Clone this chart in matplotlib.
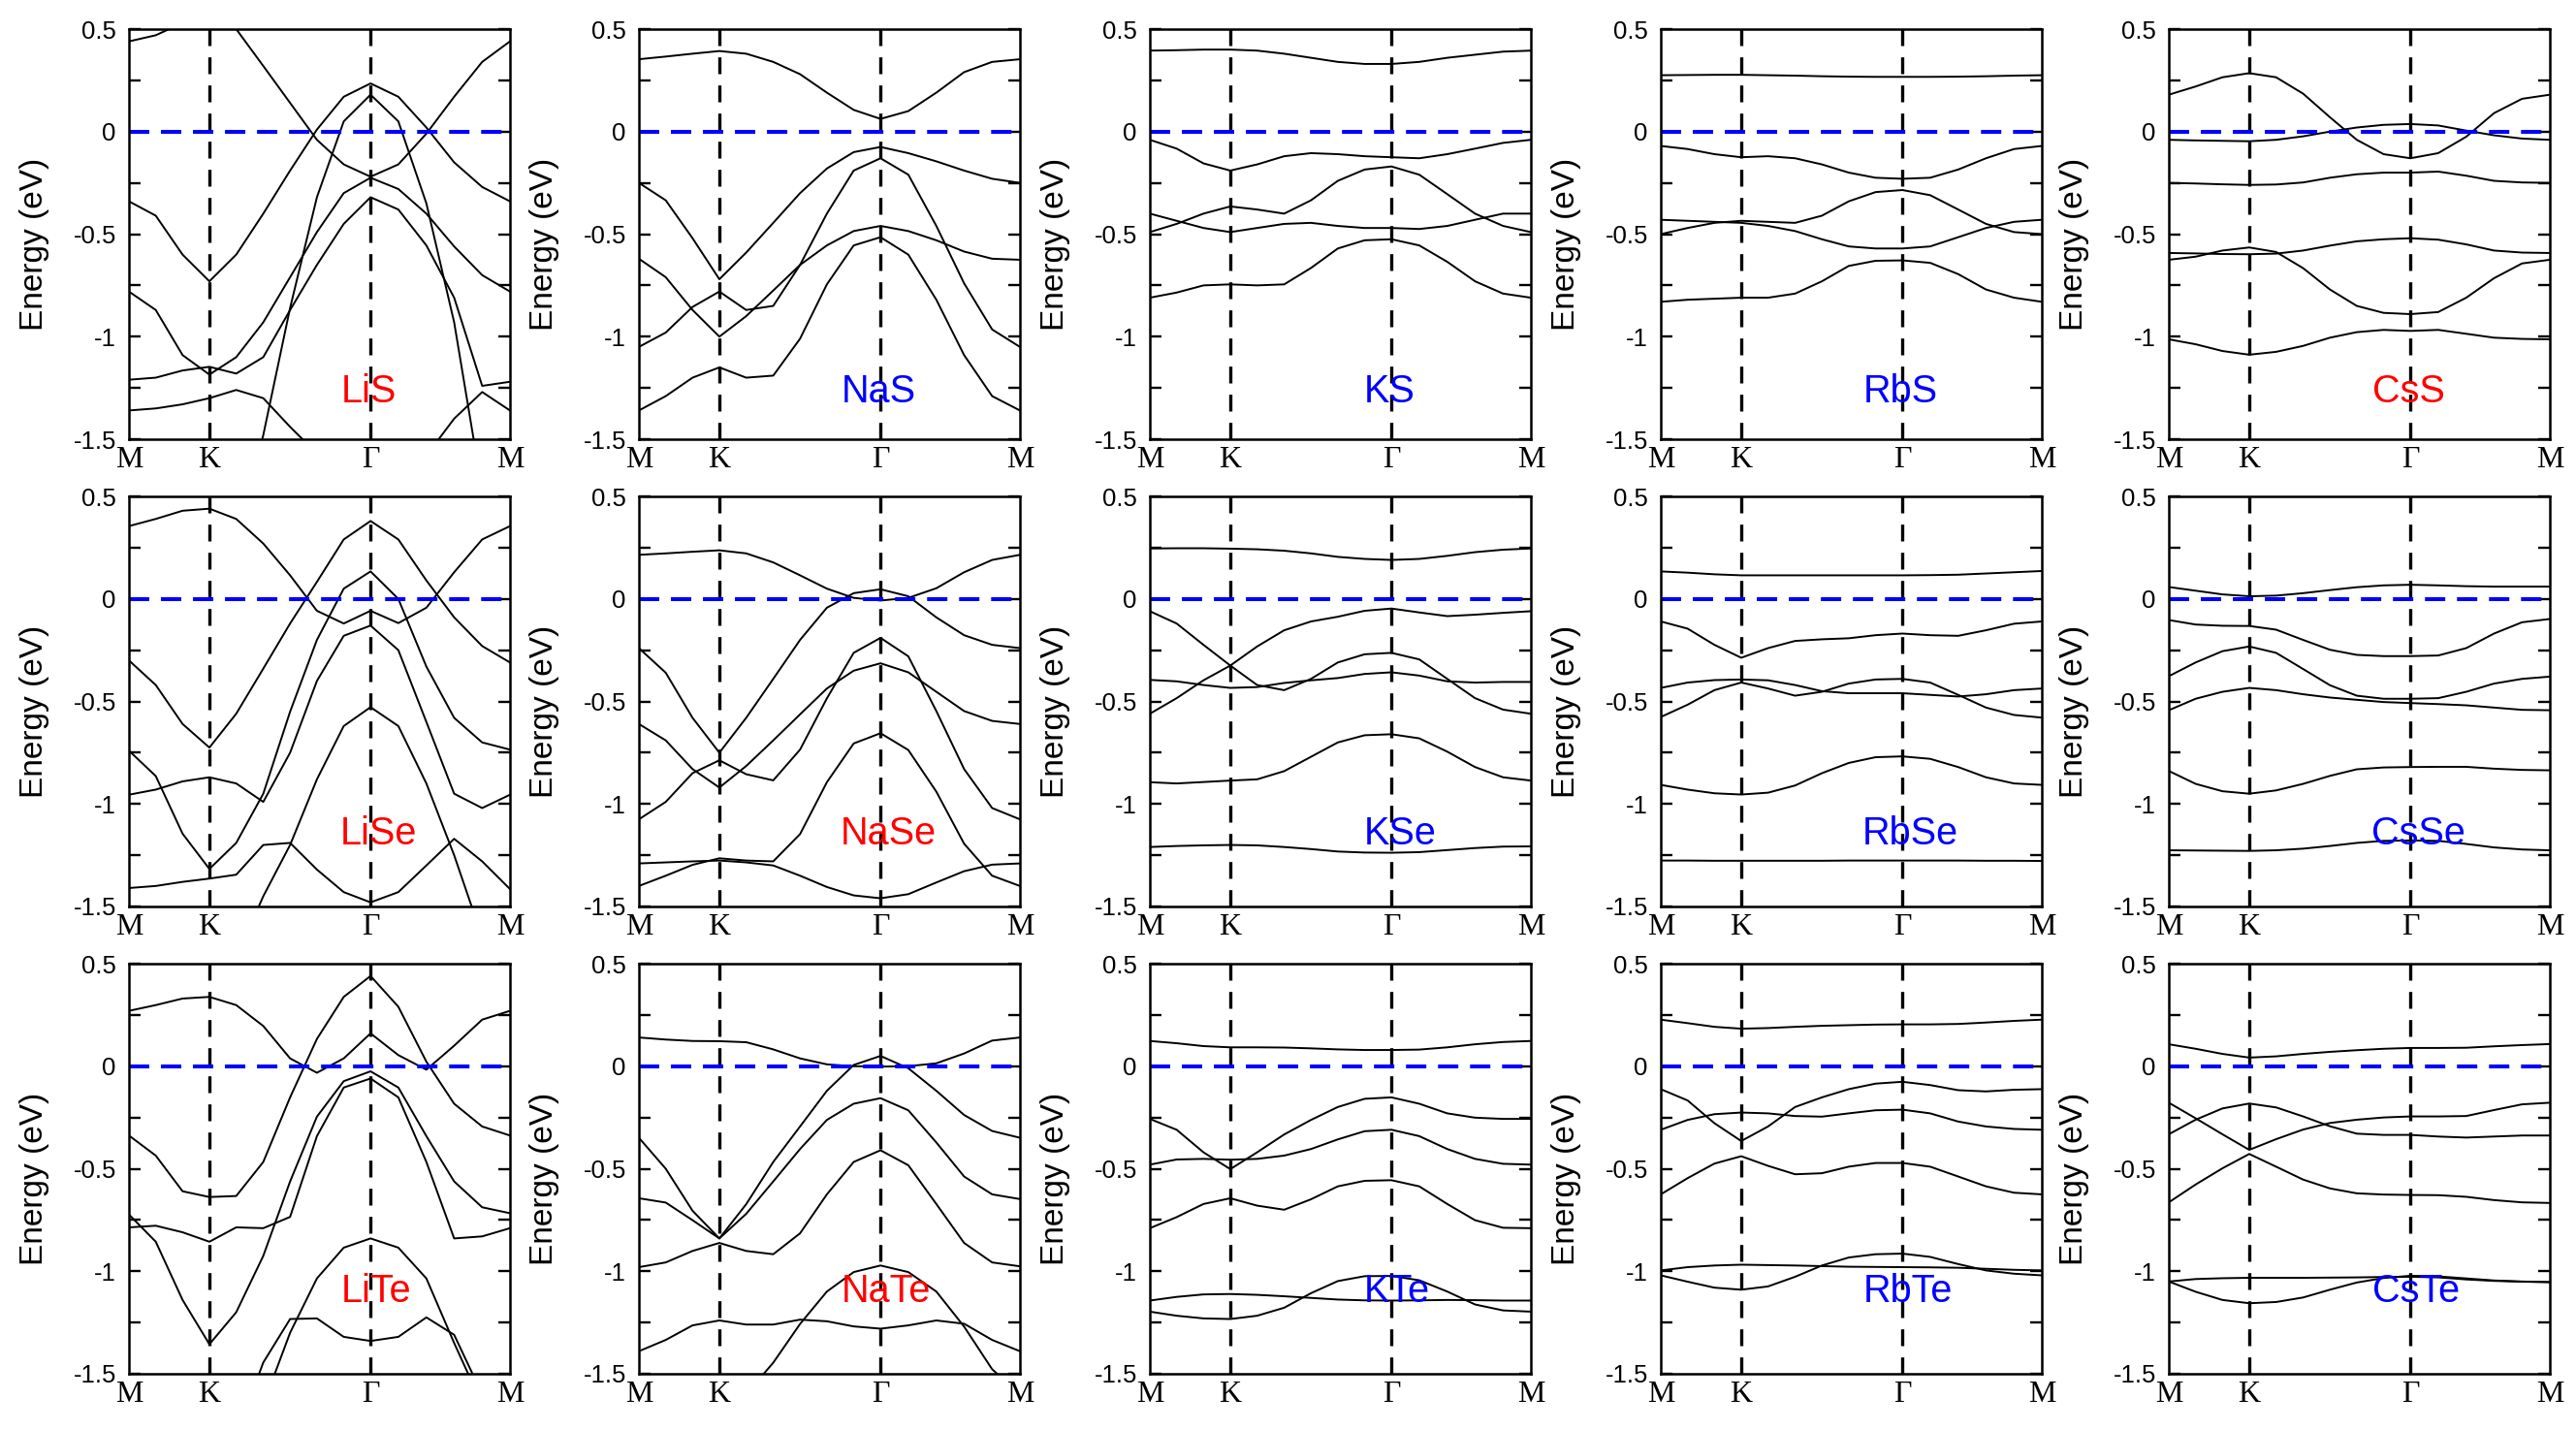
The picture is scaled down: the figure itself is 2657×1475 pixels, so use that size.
import matplotlib
matplotlib.use("Agg")
import matplotlib.pyplot as plt
import matplotlib.transforms as mtransforms

plt.rcParams['font.family'] = ['Liberation Sans', 'DejaVu Sans']

# k-path M -> K -> Gamma -> M (hexagonal BZ, 2pi/a units)
kpath = [0.0, 0.111, 0.222, 0.333, 0.444, 0.556, 0.667, 0.778, 0.889, 1.0,
         1.115, 1.231, 1.346, 1.462, 1.577]
k_ticks = [0.0, 0.333, 1.0, 1.577]
k_labels = ['M', 'K', 'Γ', 'M']

# band energies (eV) read at the kpath points; values outside [-1.5, 0.5] are clipped
LiS = [
    [0.44, 0.47, 0.53, 0.60, 0.50, 0.32, 0.14, -0.04, -0.16, -0.22, -0.16, -0.01, 0.17, 0.34, 0.44],
    [-0.34, -0.41, -0.60, -0.73, -0.60, -0.40, -0.19, 0.01, 0.17, 0.235, 0.17, 0.02, -0.15, -0.27, -0.34],
    [-2.2, -2.2, -2.2, -2.2, -2.0, -1.48, -0.86, -0.32, 0.05, 0.18, 0.05, -0.35, -0.93, -1.75, -2.2],
    [-0.78, -0.87, -1.09, -1.185, -1.10, -0.93, -0.71, -0.49, -0.30, -0.225, -0.28, -0.40, -0.56, -0.70, -0.78],
    [-1.21, -1.20, -1.165, -1.147, -1.18, -1.10, -0.87, -0.65, -0.45, -0.32, -0.38, -0.555, -0.81, -1.24, -1.22],
    [-1.36, -1.35, -1.33, -1.30, -1.26, -1.30, -1.44, -1.57, -1.75, -1.85, -1.75, -1.58, -1.40, -1.27, -1.36],
]
NaS = [
    [0.353, 0.366, 0.38, 0.393, 0.38, 0.34, 0.28, 0.19, 0.106, 0.062, 0.10, 0.19, 0.29, 0.34, 0.353],
    [-0.25, -0.335, -0.52, -0.72, -0.59, -0.445, -0.30, -0.18, -0.10, -0.075, -0.105, -0.145, -0.19, -0.23, -0.25],
    [-1.05, -0.98, -0.855, -0.78, -0.87, -0.85, -0.65, -0.40, -0.19, -0.13, -0.21, -0.46, -0.74, -0.965, -1.05],
    [-0.62, -0.71, -0.87, -1.0, -0.90, -0.775, -0.65, -0.555, -0.485, -0.46, -0.485, -0.53, -0.585, -0.62, -0.625],
    [-1.36, -1.29, -1.20, -1.15, -1.20, -1.19, -1.01, -0.745, -0.555, -0.515, -0.60, -0.82, -1.09, -1.29, -1.36],
]
KS = [
    [0.395, 0.397, 0.40, 0.40, 0.395, 0.38, 0.36, 0.34, 0.33, 0.33, 0.34, 0.36, 0.375, 0.39, 0.395],
    [-0.04, -0.083, -0.155, -0.19, -0.16, -0.12, -0.105, -0.11, -0.12, -0.125, -0.13, -0.11, -0.083, -0.055, -0.04],
    [-0.49, -0.45, -0.40, -0.365, -0.38, -0.40, -0.335, -0.24, -0.185, -0.17, -0.21, -0.305, -0.40, -0.46, -0.49],
    [-0.40, -0.435, -0.47, -0.49, -0.47, -0.45, -0.445, -0.46, -0.47, -0.47, -0.475, -0.46, -0.43, -0.40, -0.40],
    [-0.81, -0.785, -0.75, -0.745, -0.75, -0.745, -0.665, -0.57, -0.53, -0.525, -0.555, -0.635, -0.73, -0.79, -0.81],
]
RbS = [
    [0.275, 0.276, 0.277, 0.277, 0.275, 0.273, 0.27, 0.268, 0.267, 0.267, 0.267, 0.268, 0.27, 0.273, 0.275],
    [-0.07, -0.085, -0.11, -0.125, -0.12, -0.13, -0.16, -0.20, -0.225, -0.23, -0.225, -0.185, -0.13, -0.085, -0.07],
    [-0.50, -0.47, -0.445, -0.435, -0.44, -0.445, -0.41, -0.34, -0.295, -0.285, -0.31, -0.38, -0.45, -0.49, -0.50],
    [-0.43, -0.435, -0.44, -0.445, -0.46, -0.485, -0.525, -0.56, -0.57, -0.57, -0.56, -0.515, -0.47, -0.44, -0.43],
    [-0.83, -0.82, -0.815, -0.81, -0.81, -0.79, -0.73, -0.655, -0.63, -0.628, -0.64, -0.695, -0.77, -0.81, -0.83],
]
CsS = [
    [0.18, 0.22, 0.265, 0.285, 0.265, 0.185, 0.07, -0.04, -0.11, -0.13, -0.105, -0.025, 0.09, 0.16, 0.18],
    [-0.04, -0.043, -0.045, -0.047, -0.04, -0.023, 0.0, 0.02, 0.033, 0.037, 0.03, 0.005, -0.018, -0.034, -0.04],
    [-0.25, -0.253, -0.257, -0.26, -0.258, -0.248, -0.225, -0.208, -0.20, -0.20, -0.195, -0.215, -0.24, -0.248, -0.25],
    [-0.592, -0.594, -0.597, -0.598, -0.595, -0.58, -0.556, -0.535, -0.525, -0.52, -0.527, -0.55, -0.58, -0.59, -0.592],
    [-0.625, -0.61, -0.58, -0.565, -0.587, -0.666, -0.77, -0.85, -0.884, -0.89, -0.88, -0.81, -0.715, -0.643, -0.625],
    [-1.013, -1.037, -1.07, -1.088, -1.074, -1.045, -1.005, -0.978, -0.967, -0.972, -0.967, -0.986, -1.005, -1.011, -1.013],
]

LiSe = [
    [0.355, 0.39, 0.43, 0.44, 0.39, 0.27, 0.115, -0.058, -0.12, -0.058, -0.118, -0.043, 0.13, 0.29, 0.355],
    [-0.30, -0.42, -0.61, -0.725, -0.56, -0.34, -0.12, 0.083, 0.29, 0.38, 0.29, 0.09, -0.09, -0.23, -0.31],
    [-0.74, -0.864, -1.145, -1.317, -1.19, -0.95, -0.55, -0.20, 0.05, 0.134, 0.0, -0.33, -0.58, -0.70, -0.735],
    [-0.955, -0.93, -0.89, -0.87, -0.90, -0.99, -0.75, -0.40, -0.18, -0.13, -0.25, -0.60, -0.95, -1.02, -0.955],
    [-2.2, -2.2, -2.2, -2.0, -1.75, -1.45, -1.20, -0.88, -0.62, -0.528, -0.62, -0.90, -1.25, -1.65, -2.0],
    [-1.41, -1.40, -1.38, -1.364, -1.345, -1.20, -1.19, -1.32, -1.43, -1.48, -1.43, -1.30, -1.17, -1.28, -1.415],
]
NaSe = [
    [0.215, 0.222, 0.23, 0.237, 0.222, 0.178, 0.115, 0.05, 0.005, -0.008, 0.005, 0.052, 0.13, 0.19, 0.215],
    [-0.24, -0.36, -0.58, -0.75, -0.58, -0.39, -0.20, -0.043, 0.028, 0.047, 0.013, -0.09, -0.177, -0.224, -0.24],
    [-1.075, -0.99, -0.85, -0.787, -0.855, -0.885, -0.735, -0.485, -0.263, -0.19, -0.28, -0.547, -0.83, -1.02, -1.075],
    [-0.61, -0.69, -0.83, -0.92, -0.815, -0.69, -0.563, -0.437, -0.35, -0.314, -0.358, -0.453, -0.547, -0.595, -0.61],
    [-1.40, -1.35, -1.297, -1.265, -1.276, -1.28, -1.147, -0.894, -0.705, -0.655, -0.737, -0.94, -1.194, -1.35, -1.40],
    [-1.29, -1.285, -1.28, -1.276, -1.285, -1.30, -1.35, -1.405, -1.446, -1.46, -1.44, -1.383, -1.328, -1.296, -1.29],
]
KSe = [
    [0.246, 0.247, 0.247, 0.245, 0.242, 0.235, 0.222, 0.205, 0.195, 0.19, 0.195, 0.21, 0.228, 0.24, 0.246],
    [-0.56, -0.484, -0.397, -0.325, -0.232, -0.153, -0.11, -0.087, -0.058, -0.047, -0.066, -0.084, -0.077, -0.068, -0.06],
    [-0.06, -0.12, -0.224, -0.325, -0.42, -0.445, -0.39, -0.31, -0.27, -0.263, -0.295, -0.39, -0.484, -0.54, -0.56],
    [-0.395, -0.402, -0.42, -0.434, -0.43, -0.41, -0.397, -0.386, -0.366, -0.358, -0.374, -0.402, -0.408, -0.405, -0.405],
    [-0.894, -0.90, -0.893, -0.886, -0.88, -0.84, -0.77, -0.70, -0.665, -0.66, -0.68, -0.745, -0.82, -0.87, -0.886],
    [-1.21, -1.205, -1.202, -1.20, -1.202, -1.21, -1.22, -1.232, -1.237, -1.238, -1.235, -1.225, -1.215, -1.208, -1.207],
]
RbSe = [
    [0.134, 0.128, 0.12, 0.115, 0.115, 0.115, 0.115, 0.115, 0.115, 0.115, 0.116, 0.118, 0.124, 0.13, 0.136],
    [-0.11, -0.145, -0.224, -0.287, -0.24, -0.205, -0.197, -0.192, -0.177, -0.169, -0.177, -0.18, -0.153, -0.121, -0.11],
    [-0.576, -0.516, -0.445, -0.408, -0.437, -0.472, -0.453, -0.413, -0.393, -0.39, -0.408, -0.468, -0.53, -0.566, -0.579],
    [-0.434, -0.408, -0.396, -0.393, -0.397, -0.42, -0.45, -0.46, -0.46, -0.46, -0.468, -0.476, -0.465, -0.445, -0.437],
    [-0.907, -0.93, -0.948, -0.954, -0.945, -0.91, -0.85, -0.80, -0.772, -0.768, -0.78, -0.82, -0.87, -0.90, -0.907],
    [-1.276, -1.276, -1.277, -1.277, -1.277, -1.277, -1.277, -1.276, -1.276, -1.276, -1.276, -1.276, -1.277, -1.277, -1.278],
]
CsSe = [
    [0.058, 0.04, 0.022, 0.013, 0.016, 0.028, 0.043, 0.057, 0.066, 0.069, 0.066, 0.062, 0.06, 0.06, 0.06],
    [-0.103, -0.125, -0.131, -0.132, -0.15, -0.20, -0.248, -0.273, -0.279, -0.279, -0.276, -0.24, -0.169, -0.114, -0.098],
    [-0.377, -0.31, -0.255, -0.232, -0.263, -0.342, -0.421, -0.472, -0.487, -0.487, -0.484, -0.453, -0.413, -0.39, -0.379],
    [-0.543, -0.487, -0.453, -0.434, -0.445, -0.465, -0.481, -0.492, -0.503, -0.508, -0.513, -0.519, -0.53, -0.541, -0.543],
    [-0.839, -0.902, -0.938, -0.95, -0.934, -0.902, -0.863, -0.831, -0.822, -0.82, -0.819, -0.819, -0.828, -0.834, -0.836],
    [-1.226, -1.227, -1.228, -1.229, -1.226, -1.218, -1.205, -1.19, -1.18, -1.178, -1.18, -1.195, -1.212, -1.222, -1.226],
]

LiTe = [
    [0.27, 0.298, 0.33, 0.338, 0.298, 0.196, 0.038, -0.032, 0.038, 0.16, 0.054, -0.017, 0.10, 0.227, 0.27],
    [-0.338, -0.436, -0.61, -0.638, -0.633, -0.467, -0.152, 0.133, 0.338, 0.44, 0.29, 0.022, -0.183, -0.294, -0.338],
    [-0.723, -0.856, -1.14, -1.356, -1.20, -0.925, -0.562, -0.246, -0.073, -0.025, -0.104, -0.341, -0.562, -0.688, -0.717],
    [-0.786, -0.778, -0.81, -0.856, -0.786, -0.79, -0.735, -0.341, -0.104, -0.06, -0.152, -0.467, -0.84, -0.83, -0.79],
    [-2.2, -2.2, -2.2, -2.2, -2.0, -1.65, -1.30, -1.035, -0.885, -0.84, -0.885, -1.035, -1.35, -1.65, -2.0],
    [-2.2, -2.2, -2.2, -2.2, -1.80, -1.445, -1.233, -1.23, -1.32, -1.34, -1.32, -1.225, -1.31, -1.60, -2.0],
]
NaTe = [
    [0.14, 0.13, 0.123, 0.122, 0.117, 0.082, 0.038, 0.009, 0.0, -0.002, 0.0, 0.014, 0.062, 0.125, 0.14],
    [-0.349, -0.50, -0.705, -0.84, -0.673, -0.467, -0.294, -0.12, 0.006, 0.05, -0.01, -0.12, -0.238, -0.316, -0.349],
    [-0.644, -0.665, -0.751, -0.84, -0.72, -0.562, -0.404, -0.262, -0.183, -0.156, -0.215, -0.372, -0.538, -0.625, -0.648],
    [-0.98, -0.957, -0.901, -0.862, -0.901, -0.917, -0.815, -0.625, -0.467, -0.41, -0.483, -0.672, -0.862, -0.957, -0.976],
    [-2.2, -2.2, -2.2, -2.0, -1.60, -1.446, -1.257, -1.099, -1.004, -0.972, -1.004, -1.099, -1.27, -1.478, -1.60],
    [-1.39, -1.335, -1.264, -1.24, -1.26, -1.26, -1.236, -1.244, -1.269, -1.28, -1.264, -1.24, -1.256, -1.335, -1.39],
]
KTe = [
    [0.123, 0.112, 0.098, 0.092, 0.092, 0.091, 0.087, 0.082, 0.079, 0.079, 0.081, 0.092, 0.107, 0.118, 0.123],
    [-0.257, -0.31, -0.42, -0.502, -0.42, -0.333, -0.262, -0.199, -0.159, -0.152, -0.183, -0.23, -0.251, -0.257, -0.257],
    [-0.48, -0.455, -0.452, -0.456, -0.452, -0.436, -0.404, -0.357, -0.317, -0.31, -0.341, -0.404, -0.452, -0.476, -0.48],
    [-0.79, -0.736, -0.672, -0.644, -0.68, -0.70, -0.649, -0.586, -0.559, -0.556, -0.586, -0.672, -0.751, -0.788, -0.79],
    [-1.143, -1.125, -1.113, -1.111, -1.115, -1.122, -1.13, -1.138, -1.142, -1.143, -1.142, -1.14, -1.141, -1.143, -1.143],
    [-1.197, -1.217, -1.23, -1.233, -1.217, -1.178, -1.107, -1.048, -1.024, -1.023, -1.044, -1.099, -1.162, -1.191, -1.197],
]
RbTe = [
    [0.227, 0.21, 0.192, 0.183, 0.186, 0.192, 0.197, 0.20, 0.203, 0.204, 0.204, 0.206, 0.213, 0.221, 0.227],
    [-0.112, -0.167, -0.278, -0.365, -0.294, -0.199, -0.152, -0.112, -0.085, -0.076, -0.092, -0.117, -0.123, -0.115, -0.112],
    [-0.31, -0.262, -0.234, -0.226, -0.23, -0.243, -0.246, -0.23, -0.215, -0.212, -0.23, -0.27, -0.294, -0.306, -0.31],
    [-0.625, -0.546, -0.475, -0.439, -0.486, -0.527, -0.522, -0.49, -0.472, -0.472, -0.49, -0.538, -0.586, -0.617, -0.625],
    [-1.02, -1.051, -1.08, -1.09, -1.074, -1.027, -0.972, -0.933, -0.917, -0.914, -0.93, -0.965, -0.996, -1.012, -1.02],
    [-0.996, -0.98, -0.972, -0.968, -0.97, -0.972, -0.975, -0.978, -0.979, -0.98, -0.981, -0.983, -0.988, -0.993, -0.996],
]
CsTe = [
    [0.107, 0.085, 0.06, 0.042, 0.048, 0.06, 0.07, 0.078, 0.085, 0.089, 0.089, 0.09, 0.097, 0.103, 0.108],
    [-0.178, -0.254, -0.332, -0.408, -0.356, -0.309, -0.277, -0.261, -0.25, -0.245, -0.245, -0.243, -0.214, -0.186, -0.178],
    [-0.332, -0.261, -0.206, -0.182, -0.201, -0.245, -0.293, -0.329, -0.335, -0.335, -0.343, -0.348, -0.343, -0.338, -0.338],
    [-0.664, -0.577, -0.498, -0.428, -0.49, -0.553, -0.596, -0.62, -0.626, -0.628, -0.629, -0.637, -0.653, -0.664, -0.667],
    [-1.05, -1.038, -1.034, -1.032, -1.032, -1.032, -1.031, -1.03, -1.028, -1.027, -1.03, -1.04, -1.047, -1.051, -1.053],
    [-1.05, -1.10, -1.14, -1.156, -1.15, -1.128, -1.09, -1.055, -1.033, -1.022, -1.025, -1.035, -1.045, -1.05, -1.053],
]

materials = [['LiS', 'NaS', 'KS', 'RbS', 'CsS'],
             ['LiSe', 'NaSe', 'KSe', 'RbSe', 'CsSe'],
             ['LiTe', 'NaTe', 'KTe', 'RbTe', 'CsTe']]
bands = {'LiS': LiS, 'NaS': NaS, 'KS': KS, 'RbS': RbS, 'CsS': CsS,
         'LiSe': LiSe, 'NaSe': NaSe, 'KSe': KSe, 'RbSe': RbSe, 'CsSe': CsSe,
         'LiTe': LiTe, 'NaTe': NaTe, 'KTe': KTe, 'RbTe': RbTe, 'CsTe': CsTe}
red_names = ['LiS', 'CsS', 'LiSe', 'NaSe', 'LiTe', 'NaTe']

# layout in pixels of the 2657x1475 canvas
W, H = 2657, 1475
lefts = [133, 659, 1186, 1713, 2237]
tops = [30, 512, 994]
aw, ah = 393, 423
label_y = [-1.32, -1.196, -1.15]
label_x = [0.63, 0.656, 0.648]

fig = plt.figure(figsize=(W / 100, H / 100), dpi=100)

for r in range(3):
    for c in range(5):
        name = materials[r][c]
        ax = fig.add_axes([lefts[c] / W, 1 - (tops[r] + ah) / H, aw / W, ah / H])
        for b in bands[name]:
            ax.plot(kpath, b, color='black', lw=1.4, solid_joinstyle='round')
        for k in k_ticks[1:3]:
            ax.axvline(k, color='black', lw=2.4, linestyle=(0, (5.2, 3.5)))
        ax.axhline(0, color='blue', lw=2.9, linestyle=(0, (5.2, 3.0)))

        ax.set_xlim(kpath[0], kpath[-1])
        ax.set_ylim(-1.5, 0.5)
        ax.set_xticks(k_ticks)
        ax.set_xticklabels(k_labels, fontfamily=['Liberation Serif', 'DejaVu Serif'], fontsize=23)
        ax.tick_params(axis='x', length=0, pad=5)
        ax.set_yticks([-1.5, -1, -0.5, 0, 0.5])
        ax.set_yticklabels(['-1.5', '-1', '-0.5', '0', '0.5'])
        ax.set_yticks([-1.25, -0.75, -0.25, 0.25], minor=True)
        ax.tick_params(axis='y', which='both', direction='in', length=8.5, width=1.7,
                       left=True, right=True, labelsize=18.5, pad=9.5)
        for s in ax.spines.values():
            s.set_linewidth(1.8)
        ax.set_ylabel('Energy (eV)', fontsize=24)
        ax.yaxis.set_label_coords(-82 / aw, 0.475)

        trans = mtransforms.blended_transform_factory(ax.transAxes, ax.transData)
        ax.text(label_x[r], label_y[r], name, transform=trans, ha='center', va='baseline',
                fontsize=28.5, color='red' if name in red_names else 'blue')

fig.savefig('out.png', dpi=100)
